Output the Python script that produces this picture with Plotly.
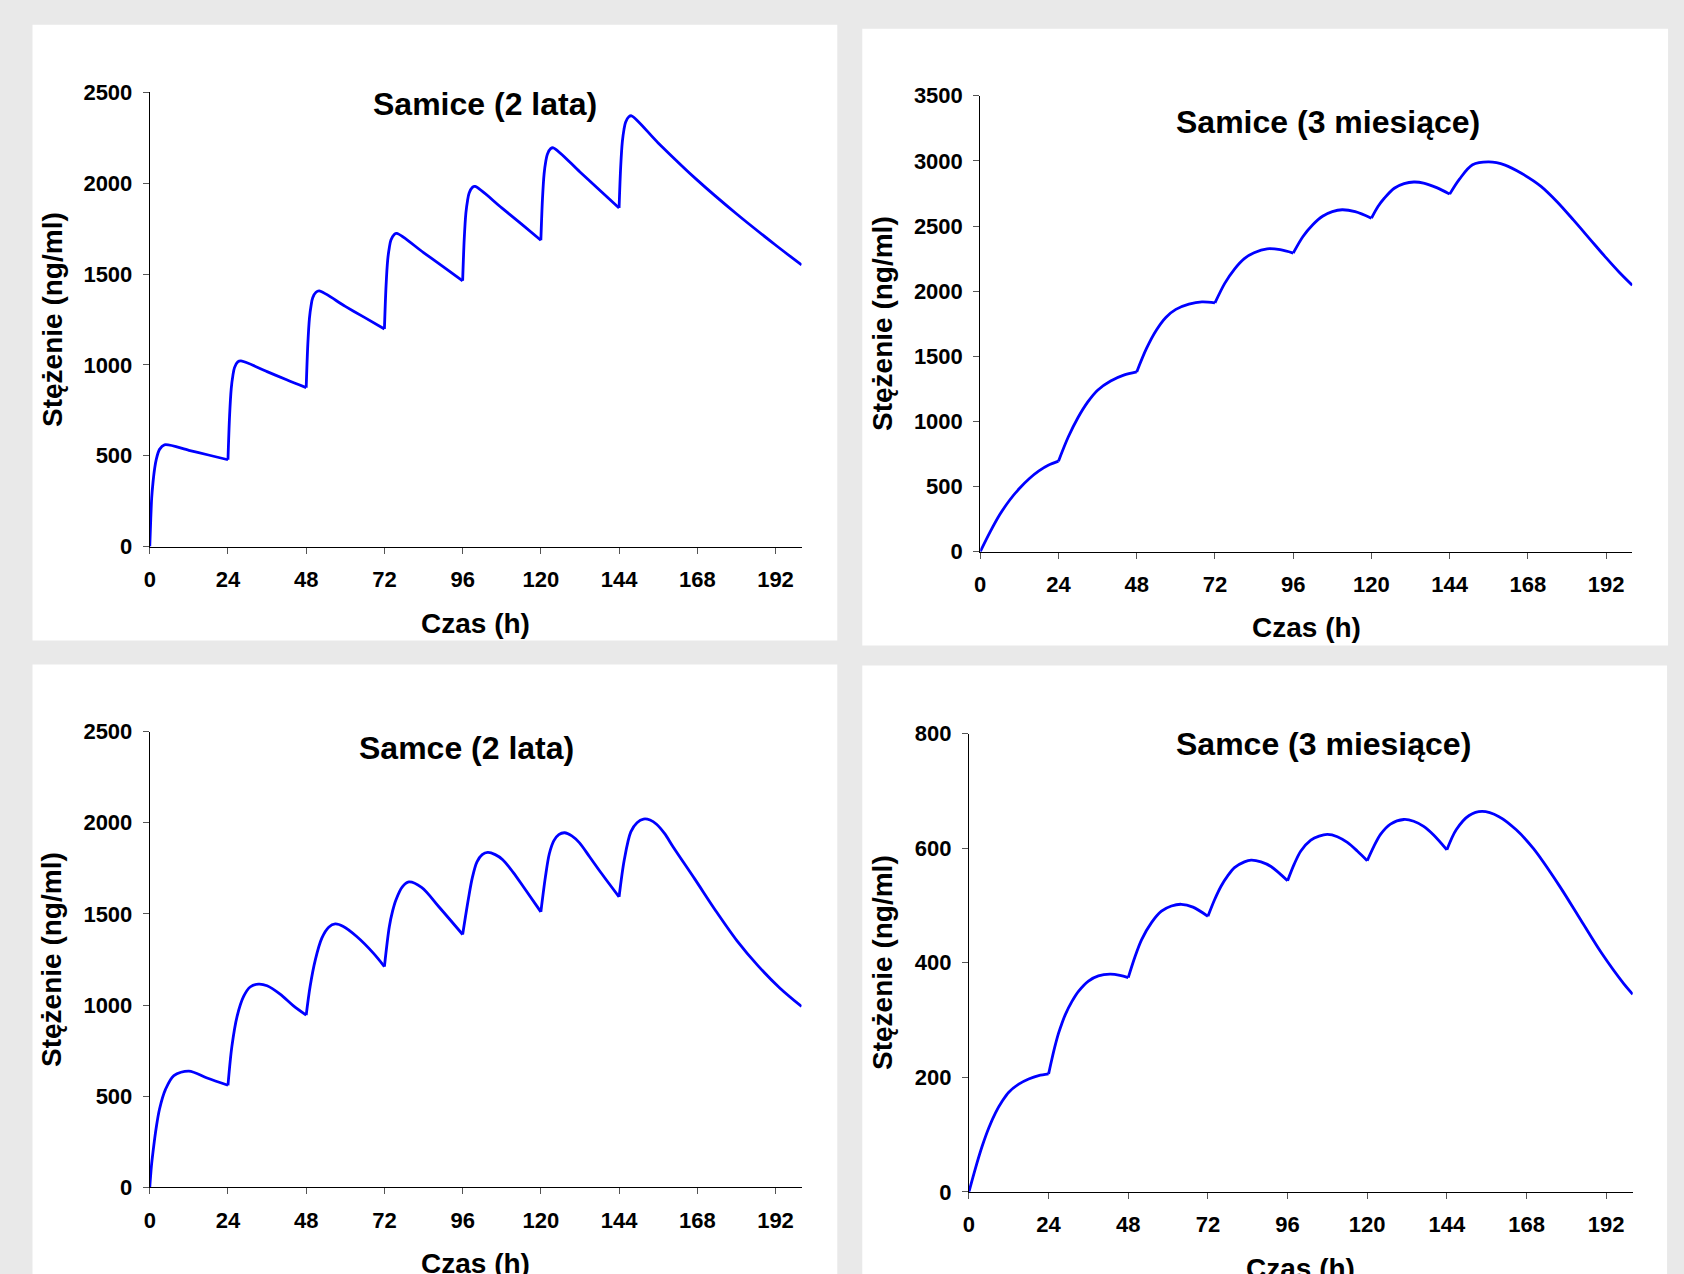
import plotly.graph_objects as go

# ---------------- data ----------------
x_ticks = [0, 24, 48, 72, 96, 120, 144, 168, 192]
dose_times = [24, 48, 72, 96, 120, 144]

# Samice (2 lata)
t_f2 = [0, 0.3, 0.6, 1, 1.5, 2, 3, 4.5, 12, 18, 24,
        24.5, 25, 25.5, 26, 27, 28, 36, 42, 48,
        48.5, 49, 49.5, 50, 51, 52, 60, 66, 72,
        72.5, 73, 73.5, 74, 75, 75.8, 84, 90, 96,
        96.5, 97, 97.5, 98, 99, 99.8, 108, 114, 120,
        120.5, 121, 121.5, 122, 123, 123.8, 132, 138, 144,
        144.5, 145, 145.5, 146, 147, 147.8, 156, 168, 180, 192, 200]
c_f2 = [0, 150, 270, 354, 430, 480, 535, 560, 530, 504, 478,
        723, 870, 941, 985, 1017, 1022, 963, 918, 875,
        1114, 1258, 1327, 1370, 1400, 1407, 1322, 1260, 1198,
        1435, 1577, 1645, 1687, 1718, 1724, 1618, 1541, 1463,
        1697, 1837, 1904, 1946, 1977, 1982, 1864, 1776, 1686,
        1915, 2052, 2119, 2160, 2190, 2195, 2062, 1963, 1864,
        2092, 2229, 2295, 2336, 2366, 2371, 2222, 2017, 1832, 1660, 1550]

# Samice (3 miesiące)
t_f3 = [0, 3, 6, 9, 12, 15, 18, 21, 24,
        27, 30, 33, 36, 40, 44, 48,
        51, 54, 57, 60, 64, 68, 72,
        75, 78, 81, 84, 88, 92, 96,
        99, 102, 105, 108, 111, 115, 120,
        122, 124, 127, 130, 133, 136, 140, 144,
        147, 151, 156, 161, 166, 172, 177, 182, 187, 192, 196, 200]
c_f3 = [0, 150, 285, 395, 485, 560, 620, 665, 695,
        880, 1030, 1150, 1240, 1310, 1355, 1380,
        1560, 1700, 1800, 1860, 1900, 1918, 1910,
        2060, 2170, 2250, 2295, 2325, 2318, 2292,
        2420, 2510, 2575, 2610, 2625, 2610, 2560,
        2650, 2715, 2790, 2825, 2838, 2830, 2795, 2745,
        2860, 2970, 2992, 2968, 2905, 2805, 2685, 2545, 2400, 2255, 2145, 2045]

# Samce (2 lata)
t_m2 = [0, 0.5, 1, 2, 3, 4.8, 7.4, 12, 17.6, 24,
        25.2, 26.8, 28.8, 30.8, 33.4, 36, 40, 44.1, 48,
        49.2, 50.8, 52.8, 54.9, 56.9, 59.4, 63.5, 68.6, 72,
        73.5, 74.5, 75.5, 77.5, 79.5, 83.4, 88.7, 96,
        97.8, 99, 100.4, 102, 103.7, 106, 108.3, 111.5, 114.8, 120,
        121.4, 122.6, 124, 125.5, 127.3, 129.5, 131.8, 135, 138.4, 144,
        145.6, 147.6, 149.5, 151.5, 153.5, 155.5, 158, 160.6, 167.2, 173.7, 180.2, 186.8, 193.3, 200]
c_m2 = [0, 115, 195, 330, 430, 536, 613, 638, 600, 560,
        773, 938, 1047, 1099, 1115, 1106, 1060, 996, 945,
        1102, 1248, 1367, 1427, 1445, 1431, 1376, 1285, 1211,
        1430, 1515, 1575, 1648, 1675, 1645, 1539, 1387,
        1586, 1700, 1785, 1825, 1837, 1825, 1797, 1728, 1645, 1511,
        1703, 1830, 1902, 1935, 1945, 1928, 1891, 1812, 1727, 1593,
        1797, 1950, 2000, 2020, 2015, 1992, 1940, 1867, 1692, 1516, 1352, 1212, 1094, 992]

# Samce (3 miesiące)
t_m3 = [0, 2, 4, 6, 8, 10, 12, 15, 18, 21, 24,
        25, 26, 27, 28, 29, 31, 33, 36, 39, 42.5, 45.5, 48,
        50, 52, 55, 58, 61, 64, 67.5, 72,
        74, 76, 78, 80, 83, 85, 88, 91, 96,
        98, 100, 103, 105.5, 108, 111, 114, 117, 120,
        122, 124, 127, 131, 134, 137, 140, 144,
        146.8, 150.7, 154.6, 159.7, 164.9, 170.1, 177.8, 184.3, 190.7, 197.2, 200]
c_m3 = [0, 42, 80, 112, 138, 158, 174, 188, 197, 203, 206,
        232, 256, 277, 294, 309, 332, 350, 368, 377, 380, 378, 374,
        410, 440, 470, 490, 499, 502, 497, 481,
        510, 534, 552, 566, 576, 579, 576, 568, 543,
        572, 595, 614, 621, 624, 620, 610, 595, 578,
        603, 624, 642, 650, 647, 638, 623, 597,
        632, 657, 664, 655, 632, 599, 535, 475, 416, 364, 345]

panels = [
    dict(title="Samice (2 lata)", t=t_f2, c=c_f2, ymax=2500, dtick=500),
    dict(title="Samice (3 miesiące)", t=t_f3, c=c_f3, ymax=3500, dtick=500),
    dict(title="Samce (2 lata)", t=t_m2, c=c_m2, ymax=2500, dtick=500),
    dict(title="Samce (3 miesiące)", t=t_m3, c=c_m3, ymax=800, dtick=200),
]

# ---------------- layout geometry (target pixels in the photograph) ----------------
W, H = 1684, 1274
FONT = "Liberation Sans, Arial, Helvetica, sans-serif"
# plot areas: x0, x1 (t=0..200), y_top, y_bottom
areas = [
    (149.3, 801.3, 92.6, 547.1),
    (980.0, 1632.2, 96.0, 552.2),
    (149.3, 801.3, 732.2, 1188.3),
    (968.7, 1632.7, 734.2, 1192.8),
]
# white panels
boxes = [(32, 837, 25, 641), (862, 1668, 29, 646), (32, 837, 665, 1300), (862, 1667, 666, 1300)]
# title centres
title_pos = [(485, 104), (1328, 122), (466, 749), (1323, 745)]
xtitle_y = [624, 628, 1264, 1269]
ytitle_x = [52, 882, 51, 882]

# the photographed page comes out slightly compressed; pre-compensate
CX, SX = 1668.0, 0.9967
CY, SY = 641.0, 0.981


def px(x):
    return (CX + (x - CX) / SX) / W


def py(y):
    return 1 - (CY + (y - CY) / SY) / H


def segments(t, c):
    """split a curve at the dosing times so each interval is smoothed on its own"""
    out, st, sc = [], [], []
    for ti, ci in zip(t, c):
        st.append(ti)
        sc.append(ci)
        if ti in dose_times:
            out.append((st, sc))
            st, sc = [ti], [ci]
    if len(st) > 1:
        out.append((st, sc))
    return out


fig = go.Figure()
shapes = []
annotations = []
layout_axes = {}

for i, (p, a) in enumerate(zip(panels, areas)):
    n = "" if i == 0 else str(i + 1)
    xa, ya = "x" + n, "y" + n
    for st, sc in segments(p["t"], p["c"]):
        fig.add_trace(go.Scatter(x=st, y=sc, mode="lines",
                                 line=dict(color="#0000ff", width=2.8, shape="spline", smoothing=0.9),
                                 xaxis=xa, yaxis=ya, showlegend=False,
                                 hoverinfo="skip"))
    x0, x1, yt, yb = a
    common = dict(showline=True, linecolor="black", linewidth=1,
                  ticks="outside", ticklen=6, tickwidth=1, tickcolor="#555555",
                  showgrid=False, zeroline=False,
                  tickfont=dict(family=FONT, size=22, color="black", weight="bold"))
    layout_axes["xaxis" + n] = dict(common, domain=[px(x0), px(x1)], range=[0, 200],
                                    tickvals=x_ticks, anchor=ya, ticklabelstandoff=7)
    layout_axes["yaxis" + n] = dict(common, domain=[py(yb), py(yt)], range=[0, p["ymax"]],
                                    tick0=0, dtick=p["dtick"], anchor=xa, ticklabelstandoff=6)
    bx0, bx1, by0, by1 = boxes[i]
    shapes.append(dict(type="rect", xref="paper", yref="paper",
                       x0=px(bx0), x1=px(bx1), y0=py(by1), y1=py(by0),
                       fillcolor="white", line=dict(width=0), layer="below"))
    tx, ty = title_pos[i]
    annotations.append(dict(text=p["title"], xref="paper", yref="paper",
                            x=px(tx), y=py(ty), xanchor="center", yanchor="middle",
                            showarrow=False,
                            font=dict(family=FONT, size=32, color="black", weight="bold")))
    annotations.append(dict(text="Czas (h)", xref="paper", yref="paper",
                            x=px((x0 + x1) / 2), y=py(xtitle_y[i]), xanchor="center",
                            yanchor="middle", showarrow=False,
                            font=dict(family=FONT, size=28, color="black", weight="bold")))
    annotations.append(dict(text="Stężenie (ng/ml)", xref="paper", yref="paper",
                            x=px(ytitle_x[i]), y=py((yt + yb) / 2), xanchor="center",
                            yanchor="middle", textangle=-90, showarrow=False,
                            font=dict(family=FONT, size=28, color="black", weight="bold")))

fig.update_layout(width=W, height=H, margin=dict(l=0, r=0, t=0, b=0),
                  paper_bgcolor="#e9e9e9", plot_bgcolor="white",
                  shapes=shapes, annotations=annotations, **layout_axes)

fig.write_html("out.html", config={"displayModeBar": False},
               post_script="document.body.style.margin='0px';document.body.style.overflow='hidden';")
